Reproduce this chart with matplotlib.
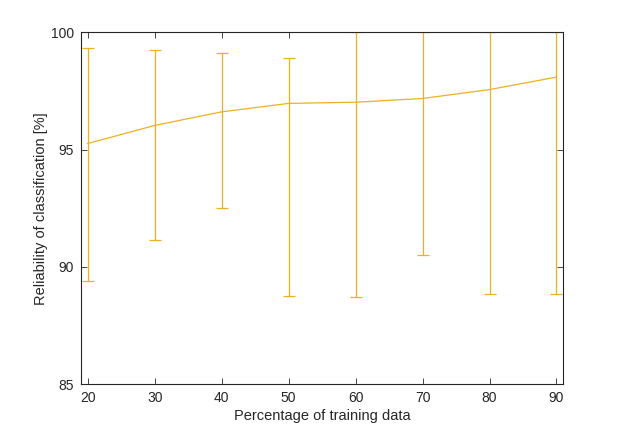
import numpy as np
import matplotlib
matplotlib.use("Agg")
import matplotlib.pyplot as plt

plt.rcParams['font.family'] = ['Liberation Sans', 'DejaVu Sans']

# data
train_pct = [20, 30, 40, 50, 60, 70, 80, 90]
reliability = [95.26, 96.03, 96.61, 96.97, 97.02, 97.18, 97.56, 98.09]
upper = [99.32, 99.23, 99.12, 98.89, 100.0, 100.0, 100.0, 100.0]
lower = [89.40, 91.15, 92.51, 88.76, 88.72, 90.51, 88.85, 88.85]

mean = np.array(reliability)
err = [mean - np.array(lower), np.array(upper) - mean]

col = '#EDB120'
txt = '#262626'

fig = plt.figure(figsize=(6.23, 4.33), dpi=100)
ax = fig.add_axes([0.13, 0.1125, 0.774, 0.8129])

ax.errorbar(train_pct, mean, yerr=err, color=col, ecolor=col, lw=0.9,
            elinewidth=0.9, capsize=4.3, capthick=0.9, clip_on=True)

ax.set_xlim(19, 91)
ax.set_ylim(85, 100)
ax.set_xticks([20, 30, 40, 50, 60, 70, 80, 90])
ax.set_yticks([85, 90, 95, 100])

ax.tick_params(direction='in', length=4, width=0.6, top=True, right=True,
               colors=txt, labelsize=10, pad=5)
for s in ax.spines.values():
    s.set_color(txt)
    s.set_linewidth(0.8)

ax.set_xlabel('Percentage of training data', fontsize=10.5, color=txt, labelpad=3)
ax.set_ylabel('Reliability of classification [%]', fontsize=10.5, color=txt, labelpad=2)

fig.savefig('out.png', dpi=100)
